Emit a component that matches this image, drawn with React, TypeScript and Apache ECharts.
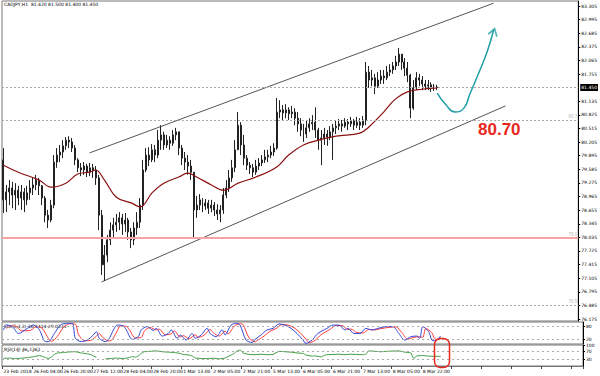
import React, { useEffect, useRef } from "react";
import * as echarts from "echarts";

const header = "CADJPY,H1  81.420 81.500 81.400 81.450";
const stochTitle = "Sto(5,3,3) 36.1414 29.0333";
const rsiTitle = "RSI(14) 46.1361";
const targetText = "80.70";

const dateLabels = [
  "23 Feb 2018", "26 Feb 04:00", "26 Feb 20:00", "27 Feb 12:00", "28 Feb 04:00",
  "28 Feb 20:00", "1 Mar 13:00", "2 Mar 05:00", "2 Mar 21:00", "5 Mar 13:00",
  "6 Mar 05:00", "6 Mar 21:00", "7 Mar 13:00", "8 Mar 05:00", "8 Mar 22:00",
];
const totalBars = 194;

const firstOpen = 79.8;
const closes = [
  78.89, 79.07, 79.16, 79.0, 79.11, 78.93, 79.07, 78.89, 79.05, 79.16,
  79.23, 79.34, 79.21, 78.93, 78.54, 78.43, 78.77, 79.75, 79.91, 79.98,
  80.12, 80.25, 80.21, 80.07, 79.8, 79.62, 79.57, 79.66, 79.52, 79.62,
  79.57, 79.39, 78.54, 77.41, 77.63, 77.98, 78.2, 78.32, 78.38, 78.48,
  78.34, 78.43, 78.16, 77.98, 78.25, 78.38, 78.77, 79.57, 79.91, 79.8,
  80.03, 79.91, 80.25, 80.37, 80.14, 80.25, 80.18, 80.37, 80.44, 80.07,
  79.84, 79.75, 79.66, 79.52, 78.66, 78.77, 78.89, 78.75, 78.82, 78.7,
  78.77, 78.66, 78.57, 78.66, 79.0, 79.16, 79.39, 79.62, 80.03, 80.59,
  80.14, 79.84, 79.68, 79.62, 79.52, 79.66, 79.73, 79.8, 79.87, 79.91,
  79.98, 80.07, 80.89, 80.94, 80.87, 80.94, 80.85, 80.89, 80.75, 80.62,
  80.48, 80.39, 80.53, 80.62, 80.66, 80.48, 80.25, 80.3, 80.39, 80.32,
  80.44, 80.53, 80.57, 80.62, 80.57, 80.66, 80.62, 80.69, 80.59, 80.66,
  80.59, 80.71, 81.8, 81.62, 81.67, 81.48, 81.62, 81.71, 81.67, 81.8,
  81.85, 81.94, 82.03, 82.21, 82.03, 81.89, 81.73, 80.98, 81.44, 81.67,
  81.62, 81.53, 81.48, 81.51, 81.44, 81.46, 81.45,
];
const highs = [
  80.07, 79.23, 79.34, 79.3, 79.27, 79.21, 79.23, 79.16, 79.21, 79.34,
  79.39, 79.46, 79.39, 79.23, 78.98, 78.66, 78.89, 79.91, 80.07, 80.14,
  80.25, 80.32, 80.34, 80.3, 80.14, 79.84, 79.73, 79.75, 79.71, 79.73,
  79.71, 79.66, 79.46, 78.66, 77.86, 78.09, 78.38, 78.48, 78.57, 78.61,
  78.57, 78.59, 78.48, 78.25, 78.38, 78.61, 78.93, 79.8, 80.07, 80.09,
  80.16, 80.14, 80.48, 80.59, 80.44, 80.37, 80.34, 80.48, 80.53, 80.44,
  80.14, 79.98, 79.91, 79.8, 79.52, 78.98, 79.02, 78.93, 78.91, 78.89,
  78.89, 78.84, 78.79, 78.77, 79.16, 79.34, 79.57, 79.8, 80.25, 80.89,
  80.66, 80.37, 79.91, 79.75, 79.71, 79.8, 79.84, 79.91, 80.03, 80.03,
  80.12, 80.18, 81.21, 81.16, 81.05, 81.07, 81.0, 81.03, 80.98, 80.89,
  80.75, 80.62, 80.71, 80.75, 80.82, 81.0, 80.53, 80.48, 80.53, 80.48,
  80.57, 80.62, 80.69, 80.73, 80.71, 80.75, 80.73, 80.78, 80.73, 80.78,
  80.75, 80.8, 82.03, 81.94, 81.85, 81.76, 81.8, 81.85, 81.85, 81.94,
  81.98, 82.03, 82.17, 82.35, 82.21, 82.12, 82.03, 81.76, 81.62, 81.8,
  81.76, 81.71, 81.62, 81.62, 81.57, 81.53, 81.51,
];
const lows = [
  78.59, 78.61, 78.77, 78.7, 78.66, 78.77, 78.66, 78.61, 78.77, 78.89,
  79.0, 79.11, 79.0, 78.77, 78.38, 78.25, 78.38, 78.7, 79.62, 79.75,
  79.84, 80.03, 80.07, 79.98, 79.68, 79.52, 79.43, 79.46, 79.41, 79.43,
  79.39, 79.23, 78.2, 77.18, 77.04, 77.47, 77.86, 78.02, 78.16, 78.2,
  78.09, 78.16, 77.98, 77.79, 77.86, 78.09, 78.25, 78.66, 79.52, 79.66,
  79.75, 79.75, 79.84, 80.03, 80.03, 80.07, 80.03, 80.12, 80.25, 79.91,
  79.68, 79.57, 79.46, 79.34, 78.04, 78.48, 78.66, 78.61, 78.66, 78.57,
  78.61, 78.52, 78.43, 78.38, 78.57, 78.93, 79.07, 79.3, 79.52, 80.03,
  79.91, 79.68, 79.57, 79.48, 79.41, 79.46, 79.57, 79.66, 79.73, 79.75,
  79.84, 79.89, 80.03, 80.75, 80.71, 80.75, 80.71, 80.75, 80.59, 80.44,
  80.34, 80.21, 80.3, 80.44, 80.48, 80.3, 80.03, 79.68, 80.14, 80.12,
  80.25, 79.8, 80.39, 80.48, 80.44, 80.53, 80.48, 80.55, 80.48, 80.53,
  80.48, 80.53, 80.59, 81.44, 81.48, 81.3, 81.44, 81.53, 81.53, 81.62,
  81.71, 81.76, 81.85, 81.94, 81.85, 81.71, 81.57, 80.75, 80.94, 81.39,
  81.48, 81.39, 81.39, 81.39, 81.35, 81.37, 81.39,
];

// moving average readings [bar index, value]
const maPoints = [
  [0, 79.68], [5, 79.52], [12, 79.34], [16, 79.18], [21, 79.27], [25, 79.48], [29, 79.52],
  [31, 79.57], [34, 79.34], [38, 78.95], [43, 78.82], [46, 78.73], [50, 79.05], [54, 79.27],
  [59, 79.41], [62, 79.5], [65, 79.41], [70, 79.23], [74, 79.11], [79, 79.27], [85, 79.41],
  [92, 79.64], [96, 79.91], [101, 80.14], [106, 80.25], [112, 80.34], [120, 80.41],
  [123, 80.55], [128, 80.89], [132, 81.19], [136, 81.35], [141, 81.41], [146, 81.44],
];
const upperChannel = [[29, 79.96], [165, 83.37]];
const lowerChannel = [[33, 77.02], [169, 81.03]];
const forecastPath = [
  [146, 81.32], [149, 81.05], [152, 80.89], [155, 80.98], [157, 81.3], [160, 81.78], [163, 82.3], [165, 82.76],
];
const arrowTip = [[165, 82.78]];

const priceTicks = [
  83.305, 82.995, 82.685, 82.375, 82.065, 81.755, 81.135, 80.825, 80.515, 80.205,
  79.895, 79.585, 79.275, 78.965, 78.655, 78.345, 78.035, 77.725, 77.415, 77.105,
  76.795, 76.485, 76.175,
];
const lastPrice = 81.45;
const supportLevel = 80.7;
const pinkLevel = 78.03;
const lowLevel = 76.49;

const stochK = [
  [0, 64], [1, 86], [3, 79], [5, 48], [8, 71], [10, 86], [12, 64], [14, 11], [15, 11], [17, 48],
  [19, 86], [21, 94], [23, 94], [24, 26], [26, 11], [28, 18], [30, 41], [31, 56], [32, 26], [34, 11],
  [35, 18], [37, 71], [38, 86], [40, 82], [41, 64], [43, 21], [45, 33], [46, 64], [48, 79], [50, 62],
  [51, 71], [53, 36], [55, 48], [56, 64], [58, 26], [59, 41], [61, 18], [63, 48], [64, 26], [66, 41],
  [68, 71], [69, 48], [71, 33], [73, 64], [74, 41], [76, 86], [78, 94], [79, 86], [81, 18], [83, 7],
  [84, 21], [86, 41], [88, 64], [90, 71], [92, 91], [94, 86], [96, 71], [98, 48], [100, 18], [101, 3],
  [103, 18], [105, 48], [108, 71], [110, 86], [112, 86], [114, 64], [115, 71], [117, 48], [119, 48],
  [121, 71], [123, 64], [125, 71], [128, 79], [130, 79], [132, 48], [134, 18], [136, 33], [138, 36],
  [139, 26], [140, 79], [142, 56], [143, 18], [144, 15], [146, 36],
];
const stochD = [
  [1, 70], [2, 80], [4, 82], [6, 60], [9, 62], [11, 80], [13, 70], [15, 25], [16, 12], [18, 35],
  [20, 75], [22, 92], [24, 90], [25, 45], [27, 15], [29, 16], [31, 35], [32, 48], [33, 32], [35, 14],
  [36, 16], [38, 60], [39, 82], [41, 80], [42, 66], [44, 28], [46, 30], [47, 58], [49, 75], [51, 64],
  [52, 68], [54, 42], [56, 46], [57, 60], [59, 32], [60, 38], [62, 24], [64, 42], [65, 30], [67, 40],
  [69, 66], [70, 52], [72, 36], [74, 58], [75, 46], [77, 80], [79, 92], [80, 88], [82, 28], [84, 10],
  [85, 18], [87, 36], [89, 58], [91, 70], [93, 88], [95, 86], [97, 74], [99, 52], [101, 22], [102, 6],
  [104, 16], [106, 42], [109, 66], [111, 84], [113, 84], [115, 66], [116, 68], [118, 52], [120, 50],
  [122, 66], [124, 64], [126, 70], [129, 76], [131, 78], [133, 52], [135, 22], [137, 30], [139, 33],
  [140, 30], [141, 70], [143, 52], [144, 24], [145, 20], [146, 29],
];
const rsiValues = [
  [0, 36], [2, 38], [4, 35], [6, 37], [8, 40], [10, 44], [12, 50], [13, 46], [14, 40], [15, 36],
  [16, 42], [17, 55], [18, 62], [20, 64], [22, 67], [24, 68], [26, 62], [28, 58], [29, 55], [30, 48],
  [31, 42], [32, null], [34, 34], [36, 36], [38, 38], [40, 35], [42, 40], [43, 45], [44, 42], [45, 48],
  [46, 60], [47, 68], [49, 70], [51, 72], [53, 68], [55, 66], [57, 64], [59, 60], [60, 55], [62, 52],
  [63, 48], [64, 38], [66, 36], [68, 35], [70, 37], [72, 34], [74, 38], [76, 52], [77, 60], [78, 72],
  [79, 76], [80, 62], [82, 55], [84, 54], [86, 56], [88, 54], [90, 55], [92, 70], [94, 68], [96, 66],
  [98, 62], [100, 60], [101, 52], [103, 47], [104, 48], [106, 44], [107, 50], [108, 54], [110, 55],
  [112, 56], [114, 54], [116, 56], [118, 55], [120, 54], [121, 56], [122, 72], [124, 70], [126, 68],
  [128, 70], [130, 71], [132, 72], [134, 66], [136, 62], [137, 36], [138, 48], [140, 50], [142, 47],
  [144, 46], [146, 46],
];
const stochLevels = [20, 80];
const rsiLevels = [30, 70];
const stochTicks = [0, 20, 80, 100];
const rsiTicks = [30, 70, 100];

const FONT = "DejaVu Sans";

function buildOption() {
  const cats = Array.from({ length: totalBars }, (_, i) =>
    i % 10 === 0 && i / 10 < dateLabels.length ? dateLabels[i / 10] : ""
  );
  const candleData = closes.map((c, i) => [i === 0 ? firstOpen : closes[i - 1], c, lows[i], highs[i]]);
  const every10 = (i: number) => i % 10 === 0;
  const dotted = { type: [2, 2] as any, color: "#aaa", width: 1 };

  const xAxes = [0, 1, 2].map((g) => ({
    type: "category",
    gridIndex: g,
    data: cats,
    boundaryGap: true,
    axisLine: { show: g === 2, lineStyle: { color: "#777" } },
    axisTick: { show: g === 2, interval: every10, length: 3, lineStyle: { color: "#444" } },
    axisLabel: {
      show: g === 2, interval: every10, align: "left", fontSize: 4.5, color: "#000",
      margin: 3, fontFamily: FONT,
    },
    splitLine: { show: false },
  }));

  const sideAxis = (g: number, min: number, max: number, ticks: number[], fmt: (v: number) => string) => ({
    type: "value",
    gridIndex: g,
    position: "right",
    min,
    max,
    axisLine: { show: true, lineStyle: { color: "#000" } },
    axisTick: { show: true, customValues: ticks, length: 2, lineStyle: { color: "#000" } },
    axisLabel: { customValues: ticks, formatter: fmt, fontSize: 4.5, color: "#000", margin: 3, fontFamily: FONT },
    splitLine: { show: false },
  });

  return {
    animation: false,
    backgroundColor: "#ffffff",
    grid: [
      { left: 2, right: 17, top: 1, height: 320, show: true, borderColor: "#777", borderWidth: 1 },
      { left: 2, right: 17, top: 322, height: 22, show: true, borderColor: "#777", borderWidth: 1 },
      { left: 2, right: 17, top: 345, height: 21, show: true, borderColor: "#777", borderWidth: 1 },
    ],
    xAxis: xAxes,
    yAxis: [
      sideAxis(0, 76.13, 83.42, priceTicks, (v) => v.toFixed(3)),
      sideAxis(1, 0, 100, stochTicks, (v) => String(v)),
      sideAxis(2, 0, 100, rsiTicks, (v) => String(v)),
    ],
    series: [
      {
        type: "candlestick",
        xAxisIndex: 0,
        yAxisIndex: 0,
        data: candleData,
        barMaxWidth: 1.6,
        itemStyle: { color: "#ffffff", color0: "#222222", borderColor: "#222222", borderColor0: "#222222", borderWidth: 1 },
        markLine: {
          silent: true,
          symbol: ["none", "none"],
          data: [
            {
              yAxis: lastPrice,
              lineStyle: dotted,
              label: {
                show: true, position: "end", formatter: lastPrice.toFixed(3), backgroundColor: "#000",
                color: "#fff", fontSize: 4.5, padding: [1, 1], distance: 2, fontFamily: FONT,
              },
            },
            {
              yAxis: supportLevel,
              lineStyle: dotted,
              label: { show: true, position: "insideEndTop", formatter: "80.7", fontSize: 4.5, color: "#bbb", distance: 1 },
            },
            {
              yAxis: pinkLevel,
              lineStyle: { type: "solid", color: "#f5a3a3", width: 2 },
              label: { show: true, position: "insideEndTop", formatter: "78.0", fontSize: 4.5, color: "#bbb", distance: 1 },
            },
            {
              yAxis: lowLevel,
              lineStyle: dotted,
              label: { show: true, position: "insideEndTop", formatter: "76.5", fontSize: 4.5, color: "#bbb", distance: 1 },
            },
          ],
        },
        z: 3,
      },
      {
        type: "line", xAxisIndex: 0, yAxisIndex: 0, data: maPoints, smooth: 0.4, symbol: "none",
        lineStyle: { color: "#8b1010", width: 1.2 }, z: 4,
      },
      {
        type: "line", xAxisIndex: 0, yAxisIndex: 0, data: upperChannel, symbol: "none",
        lineStyle: { color: "#555", width: 1 }, z: 2,
      },
      {
        type: "line", xAxisIndex: 0, yAxisIndex: 0, data: lowerChannel, symbol: "none",
        lineStyle: { color: "#555", width: 1 }, z: 2,
      },
      {
        type: "line", xAxisIndex: 0, yAxisIndex: 0, data: forecastPath, smooth: 0.5, symbol: "none",
        lineStyle: { color: "#1f9ea3", width: 1.5 }, z: 5,
      },
      {
        type: "scatter", xAxisIndex: 0, yAxisIndex: 0, data: arrowTip,
        symbol: "path://M0,10 L5,0 L10,10", symbolSize: [9, 7], symbolRotate: -17, symbolOffset: [0, 3],
        itemStyle: { color: "rgba(0,0,0,0)", borderColor: "#1f9ea3", borderWidth: 1.5 }, z: 5,
      },
      {
        type: "line", xAxisIndex: 1, yAxisIndex: 1, data: stochD, smooth: 0.3, symbol: "none",
        lineStyle: { color: "#ff3b3b", width: 1 },
        markLine: {
          silent: true, symbol: ["none", "none"], label: { show: false },
          lineStyle: { type: [2, 3] as any, color: "#aaa", width: 1 },
          data: stochLevels.map((v) => ({ yAxis: v })),
        },
      },
      {
        type: "line", xAxisIndex: 1, yAxisIndex: 1, data: stochK, smooth: 0.3, symbol: "none",
        lineStyle: { color: "#3346d8", width: 1 },
      },
      {
        type: "line", xAxisIndex: 2, yAxisIndex: 2, data: rsiValues, smooth: 0.1, symbol: "none",
        connectNulls: false,
        lineStyle: { color: "#3d9a3d", width: 1 },
        markLine: {
          silent: true, symbol: ["none", "none"], label: { show: false },
          lineStyle: { type: [2, 3] as any, color: "#aaa", width: 1 },
          data: rsiLevels.map((v) => ({ yAxis: v })),
        },
      },
    ],
    graphic: [
      { type: "text", left: 4, top: 2, style: { text: header, fontSize: 4.5, fill: "#000", fontFamily: FONT } },
      { type: "text", left: 4, top: 324, style: { text: stochTitle, fontSize: 4.5, fill: "#000", fontFamily: FONT } },
      { type: "text", left: 4, top: 347, style: { text: rsiTitle, fontSize: 4.5, fill: "#000", fontFamily: FONT } },
      {
        type: "text", left: 478, top: 121, z: 50,
        style: { text: targetText, fontSize: 17, fontWeight: "bold", fill: "#e8281e", fontFamily: "Liberation Sans" },
      },
      {
        type: "rect", left: 432, top: 336, z: 50,
        shape: { width: 15, height: 29, r: 6 },
        style: { fill: "none", stroke: "#e8281e", lineWidth: 1.5 },
      },
    ],
  };
}

export default function App() {
  const ref = useRef<HTMLDivElement>(null);
  useEffect(() => {
    if (!ref.current) return;
    const chart = echarts.init(ref.current, null, { renderer: "svg" });
    chart.setOption(buildOption() as any);
    return () => chart.dispose();
  }, []);
  return (
    <div
      ref={ref}
      style={{ position: "fixed", left: 0, top: 0, width: 600, height: 376, background: "#fff" }}
    />
  );
}
